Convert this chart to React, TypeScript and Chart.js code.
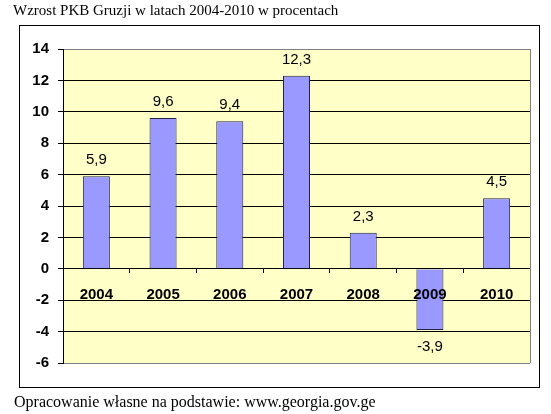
import React, { useEffect, useRef } from 'react';
import { Chart, registerables } from 'chart.js';

Chart.register(...registerables);

const years: string[] = ['2004', '2005', '2006', '2007', '2008', '2009', '2010'];
const growth: number[] = [5.9, 9.6, 9.4, 12.3, 2.3, -3.9, 4.5];
const yMin = -6;
const yMax = 14;
const yStep = 2;
const titleText = 'Wzrost PKB Gruzji w latach 2004-2010 w procentach';
const sourceText = 'Opracowanie własne na podstawie: www.georgia.gov.ge';

const SANS = '"Liberation Sans", Arial, sans-serif';
const SERIF = '"Liberation Serif", "Times New Roman", serif';

const plotBg = {
  id: 'plotBg',
  beforeDraw(chart: any) {
    const { ctx, chartArea: a } = chart;
    ctx.save();
    ctx.fillStyle = '#FFFFC8';
    ctx.fillRect(a.left, a.top, a.right - a.left, a.bottom - a.top);
    ctx.restore();
  },
  afterDraw(chart: any) {
    const { ctx, chartArea: a } = chart;
    ctx.save();
    ctx.strokeStyle = '#808080';
    ctx.lineWidth = 1;
    ctx.beginPath();
    ctx.moveTo(Math.round(a.right) + 0.5, a.top);
    ctx.lineTo(Math.round(a.right) + 0.5, a.bottom);
    ctx.stroke();
    ctx.restore();
  },
};

const valueLabels = {
  id: 'valueLabels',
  afterDatasetsDraw(chart: any) {
    const { ctx } = chart;
    const meta = chart.getDatasetMeta(0);
    const data = chart.data.datasets[0].data as number[];
    ctx.save();
    ctx.font = `15px ${SANS}`;
    ctx.fillStyle = '#000';
    ctx.textAlign = 'center';
    ctx.textBaseline = 'middle';
    meta.data.forEach((el: any, i: number) => {
      const v = data[i];
      const txt = String(v).replace('.', ',');
      const y = v >= 0 ? el.y - 16 : el.y + 17;
      ctx.fillText(txt, el.x, y);
    });
    ctx.restore();
  },
};

function ChartCanvas() {
  const ref = useRef<HTMLCanvasElement | null>(null);
  useEffect(() => {
    if (!ref.current) return;
    const chart = new Chart(ref.current, {
      type: 'bar',
      data: {
        labels: years,
        datasets: [
          {
            data: growth,
            backgroundColor: '#9999FF',
            borderColor: '#222244',
            borderWidth: 1,
            barPercentage: 0.81,
            categoryPercentage: 0.5,
          },
        ],
      },
      options: {
        responsive: false,
        animation: false,
        events: [],
        layout: { padding: { left: 20, right: 21, top: 49, bottom: 51 } },
        plugins: {
          legend: { display: false },
          tooltip: { enabled: false },
          title: { display: false },
        },
        scales: {
          x: {
            position: { y: 0 } as any,
            afterFit: (s: any) => {
              s.height = 0;
            },
            grid: {
              drawOnChartArea: false,
              drawTicks: true,
              tickLength: 4,
              color: '#000',
              offset: true,
            },
            border: { display: true, color: '#000', width: 1 },
            ticks: {
              z: 1,
              color: '#000',
              padding: 13,
              maxRotation: 0,
              font: { family: SANS, size: 15, weight: 'bold' },
            },
          },
          y: {
            min: yMin,
            max: yMax,
            afterFit: (s: any) => {
              s.width = 43;
            },
            grid: {
              color: (c: any) =>
                c.tick && (c.tick.value === yMax || c.tick.value === yMin) ? '#808080' : '#000',
              tickLength: 5,
              drawTicks: true,
              tickColor: '#000',
            },
            border: { display: true, color: '#000', width: 1 },
            ticks: {
              stepSize: yStep,
              color: '#000',
              padding: 9,
              font: { family: SANS, size: 15, weight: 'bold' },
            },
          },
        },
      },
      plugins: [plotBg, valueLabels],
    });
    return () => chart.destroy();
  }, []);
  return <canvas ref={ref} width={551} height={414} style={{ position: 'absolute', left: 0, top: 0, width: 551, height: 414 }} />;
}

export default function App() {
  return (
    <div style={{ position: 'fixed', left: 0, top: 0, width: 551, height: 414, background: '#fff', overflow: 'hidden' }}>
      <div
        style={{
          position: 'absolute',
          left: 19,
          top: 25,
          width: 519,
          height: 361,
          border: '1px solid #000',
          boxSizing: 'content-box',
        }}
      />
      <ChartCanvas />
      <div
        style={{
          position: 'absolute',
          left: 13,
          top: 1,
          fontFamily: SERIF,
          fontSize: 15,
          lineHeight: '18px',
          whiteSpace: 'nowrap',
          color: '#000',
        }}
      >
        {titleText}
      </div>
      <div
        style={{
          position: 'absolute',
          left: 14,
          top: 393,
          fontFamily: SERIF,
          fontSize: 16,
          lineHeight: '18px',
          whiteSpace: 'nowrap',
          color: '#000',
        }}
      >
        {sourceText}
      </div>
    </div>
  );
}
